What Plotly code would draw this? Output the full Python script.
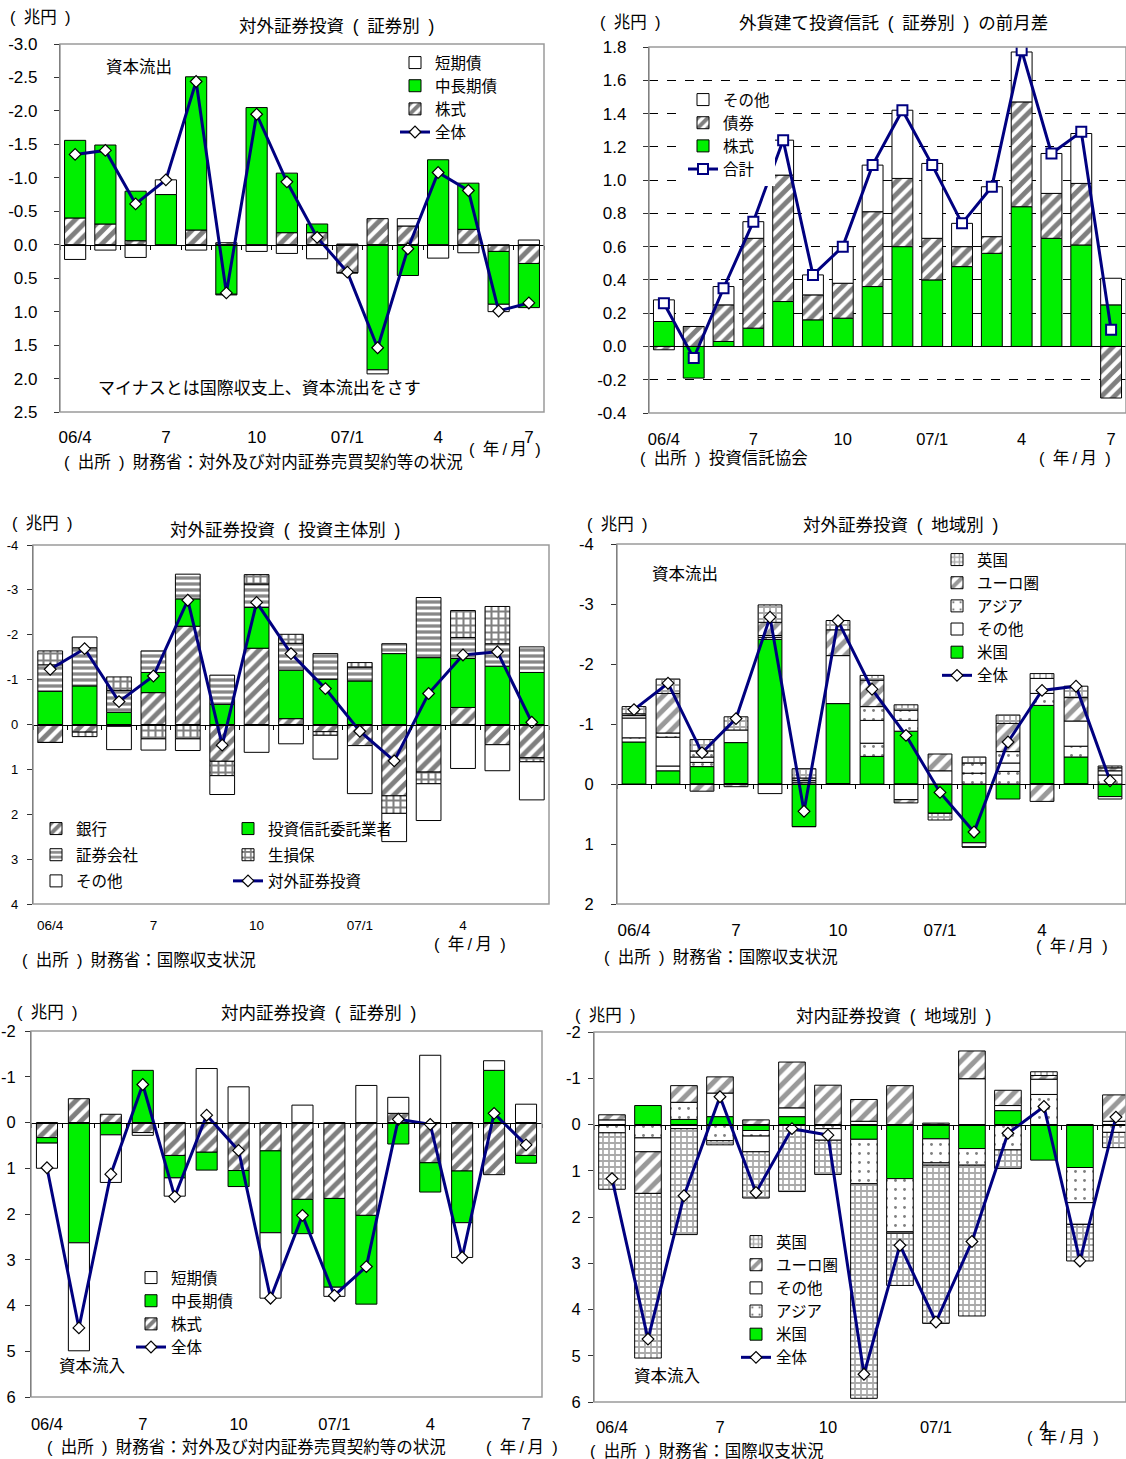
import plotly.graph_objects as go

W, H = 1126, 1459
FONT = "Liberation Sans, Noto Sans CJK JP, sans-serif"
GREEN = "#00F000"
NAVY = "#000080"
EN = "\u2002"
TH = "\u2009"

# ---------------- data ----------------
months16 = ["06/4", "06/5", "06/6", "06/7", "06/8", "06/9", "06/10", "06/11", "06/12",
            "07/1", "07/2", "07/3", "07/4", "07/5", "07/6", "07/7"]
months15 = months16[:15]
tick_pos16 = [0, 3, 6, 9, 12, 15]
tick_lab16 = ["06/4", "7", "10", "07/1", "4", "7"]
tick_pos15 = [0, 3, 6, 9, 12]
tick_lab15 = ["06/4", "7", "10", "07/1", "4"]

# Panel 1: 対外証券投資（証券別）
p1_stock = [-0.40, -0.31, -0.06, 0.00, -0.22, -0.03, 0.00, -0.18, -0.18, 0.42, -0.39, -0.28, 0.00, -0.23, 0.10, 0.28]
p1_mid = [-1.16, -1.18, -0.74, -0.75, -2.29, 0.74, -2.05, -0.89, -0.13, 0.00, 1.87, 0.46, -1.27, -0.69, 0.79, 0.66]
p1_short = [0.22, 0.08, 0.19, -0.22, 0.08, 0.01, 0.10, 0.13, 0.21, -0.01, 0.06, -0.11, 0.20, 0.12, 0.11, -0.07]
p1_total = [-1.35, -1.41, -0.61, -0.97, -2.44, 0.72, -1.95, -0.94, -0.11, 0.41, 1.54, 0.06, -1.08, -0.81, 0.99, 0.87]
p1_yticks = [-3.0, -2.5, -2.0, -1.5, -1.0, -0.5, 0.0, 0.5, 1.0, 1.5, 2.0, 2.5]

# Panel 2: 外貨建て投資信託（証券別）の前月差
p2_stock = [0.15, -0.19, 0.03, 0.11, 0.27, 0.16, 0.17, 0.36, 0.60, 0.40, 0.48, 0.56, 0.84, 0.65, 0.61, 0.25]
p2_bond = [-0.02, 0.12, 0.22, 0.54, 0.76, 0.15, 0.21, 0.45, 0.41, 0.25, 0.12, 0.10, 0.63, 0.27, 0.37, -0.31]
p2_other = [0.13, 0.00, 0.11, 0.10, 0.21, 0.12, 0.22, 0.28, 0.41, 0.45, 0.14, 0.30, 0.30, 0.24, 0.30, 0.16]
p2_total = [0.26, -0.07, 0.35, 0.75, 1.24, 0.43, 0.60, 1.09, 1.42, 1.09, 0.74, 0.96, 1.78, 1.16, 1.29, 0.10]
p2_yticks = [-0.4, -0.2, 0.0, 0.2, 0.4, 0.6, 0.8, 1.0, 1.2, 1.4, 1.6, 1.8]

# Panel 3: 対外証券投資（投資主体別）
p3_bank = [0.40, 0.17, 0.04, -0.71, -2.19, 0.82, -1.70, -0.13, 0.16, 0.47, 1.59, 1.06, -0.38, 0.45, 0.74]
p3_trust = [-0.74, -0.86, -0.27, -0.45, -0.61, -0.45, -0.91, -1.08, -1.01, -0.97, -1.58, -1.49, -1.09, -1.30, -1.16]
p3_sec = [-0.59, -0.85, -0.49, -0.48, -0.55, -0.65, -0.52, -0.60, -0.57, -0.31, -0.22, -1.34, -0.47, -0.50, -0.57]
p3_ins = [-0.31, 0.10, -0.30, 0.32, 0.32, 0.32, -0.21, -0.20, 0.08, -0.10, 0.39, 0.26, -0.60, -0.83, 0.09]
p3_other = [0.00, -0.24, 0.52, 0.25, 0.26, 0.42, 0.62, 0.43, 0.53, 1.07, 0.63, 0.82, 0.98, 0.58, 0.85]
p3_total = [-1.23, -1.69, -0.51, -1.08, -2.77, 0.46, -2.72, -1.58, -0.80, 0.15, 0.81, -0.69, -1.55, -1.62, -0.05]
p3_yticks = [-4, -3, -2, -1, 0, 1, 2, 3, 4]

# Panel 4: 対外証券投資（地域別）
p4_us = [-0.70, -0.22, -0.29, -0.69, -2.41, 0.71, -1.34, -0.46, -0.88, 0.49, 0.98, 0.25, -1.31, -0.45, 0.21]
p4_misc = [-0.07, -0.08, -0.07, 0.00, -0.035, -0.03, 0.00, -0.22, -0.18, 0.00, -0.18, -0.21, -0.20, -0.18, -0.15]
p4_other = [-0.33, -0.48, -0.09, -0.21, 0.16, -0.03, -0.80, -0.38, 0.26, -0.22, 0.07, -0.14, -0.25, -0.42, -0.07]
p4_asia = [-0.04, -0.07, -0.10, 0.00, -0.03, 0.00, 0.00, -0.23, -0.17, 0.00, -0.17, -0.19, 0.00, 0.00, 0.04]
p4_euro = [-0.03, -0.66, 0.12, 0.045, -0.22, -0.04, -0.43, -0.44, 0.055, -0.28, 0.00, -0.47, 0.29, -0.39, -0.05]
p4_uk = [-0.12, -0.24, -0.19, -0.22, -0.29, -0.155, -0.155, -0.08, -0.09, 0.11, -0.10, -0.14, -0.08, -0.19, -0.03]
p4_total = [-1.24, -1.68, -0.52, -1.09, -2.78, 0.455, -2.72, -1.58, -0.81, 0.14, 0.80, -0.70, -1.56, -1.63, -0.055]
p4_yticks = [-4, -3, -2, -1, 0, 1, 2]

# Panel 5: 対内証券投資（証券別）
p5_stock = [0.33, -0.52, -0.18, 0.22, 0.72, 0.65, 1.05, 0.62, 1.68, 1.66, 2.03, -0.20, 0.88, 1.06, 1.14, 0.72]
p5_mid = [0.12, 2.63, 0.27, -1.14, 0.49, 0.39, 0.35, 1.79, 0.75, 1.94, 1.94, 0.47, 0.64, 1.13, -1.14, 0.17]
p5_short = [0.55, 2.36, 1.04, 0.06, 0.40, -1.18, -0.78, 1.43, -0.38, 0.20, -0.81, -0.35, -1.47, 0.76, -0.21, -0.40]
p5_total = [0.99, 4.49, 1.13, -0.83, 1.62, -0.16, 0.61, 3.84, 2.03, 3.78, 3.15, -0.07, 0.04, 2.95, -0.20, 0.49]
p5_yticks = [-2, -1, 0, 1, 2, 3, 4, 5, 6]

# Panel 6: 対内証券投資（地域別）
p6_us = [0.00, -0.41, -0.11, -0.17, 0.13, -0.17, 0.00, 0.32, 1.17, 0.31, 0.52, -0.30, 0.77, 0.93, 0.00]
p6_asia = [0.18, 0.29, -0.37, 0.35, 0.12, 0.00, 0.09, 0.96, 1.15, 0.52, 0.36, 0.55, -0.65, 0.76, 0.17]
p6_other = [-0.10, 0.30, 0.09, -0.51, 0.34, -0.19, 0.25, -0.07, 0.03, 0.05, -0.99, -0.11, -0.33, 0.47, -0.07]
p6_euro = [-0.11, 0.90, -0.36, -0.35, -0.10, -0.99, -0.85, -0.47, -0.84, -0.03, -0.60, -0.33, -0.08, 0.00, -0.57]
p6_uk = [1.22, 3.56, 2.29, 0.09, 1.00, 1.45, 0.74, 4.64, 1.13, 3.42, 3.26, 0.40, -0.08, 0.79, 0.33]
p6_total = [1.17, 4.64, 1.54, -0.60, 1.47, 0.09, 0.23, 5.40, 2.61, 4.27, 2.53, 0.19, -0.39, 2.95, -0.16]
p6_yticks = [-2, -1, 0, 1, 2, 3, 4, 5, 6]

# ---------------- styles ----------------
PLAIN_WHITE = dict(color="white")
PLAIN_GREEN = dict(color=GREEN)
HATCH = dict(color="white", pattern=dict(shape="/", fgcolor="black", bgcolor="white", size=9, solidity=0.55))
HATCH_GRAY = dict(color="white", pattern=dict(shape="/", fgcolor="#333333", bgcolor="white", size=10, solidity=0.5))
HSTRIPE = dict(color="white", pattern=dict(shape="-", fgcolor="#111111", bgcolor="white", size=6, solidity=0.55))
GRID_BLK = dict(color="white", pattern=dict(shape="+", fgcolor="black", bgcolor="white", size=7, solidity=0.5))
GRID_GRAY = dict(color="white", pattern=dict(shape="+", fgcolor="#555555", bgcolor="white", size=6, solidity=0.5))
DOTS = dict(color="white", pattern=dict(shape=".", fgcolor="black", bgcolor="white", size=9, solidity=0.08))

fig = go.Figure()


def sfx(k):
    return "" if k == 1 else str(k)


def add_bar(k, xs, vals, name, style, legend, rank, width, show=True):
    marker = dict(line=dict(color="black", width=1))
    marker.update(style)
    fig.add_trace(go.Bar(x=xs, y=vals, name=name, width=width, marker=marker,
                         xaxis="x" + sfx(k), yaxis="y" + sfx(k), legend=legend,
                         legendrank=rank, legendgroup=f"g{k}_{rank}", showlegend=show,
                         hoverinfo="x+y+name"))


def add_line(k, xs, vals, name, legend, rank, symbol="diamond", size=9, mline=None):
    if mline is None:
        mline = dict(color="black", width=1.2)
    fig.add_trace(go.Scatter(x=xs, y=vals, name=name, mode="lines+markers",
                             line=dict(color=NAVY, width=3),
                             marker=dict(symbol=symbol, size=size, color="white", line=mline),
                             xaxis="x" + sfx(k), yaxis="y" + sfx(k), legend=legend,
                             legendrank=rank, legendgroup=f"g{k}_{rank}"))


x16 = list(range(len(months16)))
x15 = list(range(len(months15)))

# panel 1
add_bar(1, x16, p1_stock, "株式", HATCH, "legend", 3, 0.7)
add_bar(1, x16, p1_mid, "中長期債", PLAIN_GREEN, "legend", 2, 0.7)
add_bar(1, x16, p1_short, "短期債", PLAIN_WHITE, "legend", 1, 0.7)
add_line(1, x16, p1_total, "全体", "legend", 4)

# panel 2
add_bar(2, x16, p2_stock, "株式", PLAIN_GREEN, "legend2", 3, 0.7)
add_bar(2, x16, p2_bond, "債券", HATCH, "legend2", 2, 0.7)
add_bar(2, x16, p2_other, "その他", PLAIN_WHITE, "legend2", 1, 0.7)
add_line(2, x16, p2_total, "合計", "legend2", 4, symbol="square", size=10,
         mline=dict(color=NAVY, width=2))

# panel 3
add_bar(3, x15, p3_bank, "銀行", HATCH, "legend3", 1, 0.72)
add_bar(3, x15, p3_trust, "投資信託委託業者", PLAIN_GREEN, "legend4", 1, 0.72)
add_bar(3, x15, p3_sec, "証券会社", HSTRIPE, "legend3", 2, 0.72)
add_bar(3, x15, p3_ins, "生損保", GRID_BLK, "legend4", 2, 0.72)
add_bar(3, x15, p3_other, "その他", PLAIN_WHITE, "legend3", 3, 0.72)
add_line(3, x15, p3_total, "対外証券投資", "legend4", 3)

# panel 4
add_bar(4, x15, p4_us, "米国", PLAIN_GREEN, "legend5", 5, 0.7)
add_bar(4, x15, p4_misc, "その他地域", DOTS, "legend5", 9, 0.7, show=False)
add_bar(4, x15, p4_other, "その他", PLAIN_WHITE, "legend5", 4, 0.7)
add_bar(4, x15, p4_asia, "アジア", DOTS, "legend5", 3, 0.7)
add_bar(4, x15, p4_euro, "ユーロ圏", HATCH_GRAY, "legend5", 2, 0.7)
add_bar(4, x15, p4_uk, "英国", GRID_GRAY, "legend5", 1, 0.7)
add_line(4, x15, p4_total, "全体", "legend5", 6)

# panel 5
add_bar(5, x16, p5_stock, "株式", HATCH, "legend6", 3, 0.66)
add_bar(5, x16, p5_mid, "中長期債", PLAIN_GREEN, "legend6", 2, 0.66)
add_bar(5, x16, p5_short, "短期債", PLAIN_WHITE, "legend6", 1, 0.66)
add_line(5, x16, p5_total, "全体", "legend6", 4)

# panel 6
add_bar(6, x15, p6_us, "米国", PLAIN_GREEN, "legend7", 5, 0.74)
add_bar(6, x15, p6_asia, "アジア", DOTS, "legend7", 4, 0.74)
add_bar(6, x15, p6_other, "その他", PLAIN_WHITE, "legend7", 3, 0.74)
add_bar(6, x15, p6_euro, "ユーロ圏", HATCH_GRAY, "legend7", 2, 0.74)
add_bar(6, x15, p6_uk, "英国", GRID_GRAY, "legend7", 1, 0.74)
add_line(6, x15, p6_total, "全体", "legend7", 6)

# ---------------- axes ----------------
panels = [
    dict(box=(60, 44, 544, 412), yr=(2.5, -3.0), yt=p1_yticks, fmt="{:.1f}",
         xr=(-0.5, 15.5), tv=tick_pos16, tt=tick_lab16, xf=17, yf=17, xlen=10, ystd=13, zt=True),
    dict(box=(649, 47, 1126, 413), yr=(-0.4, 1.8), yt=p2_yticks, fmt="{:.1f}",
         xr=(-0.5, 15.5), tv=tick_pos16, tt=tick_lab16, xf=16.5, yf=17, xlen=11, ystd=13, zt=False),
    dict(box=(33, 545, 549, 904), yr=(4, -4), yt=p3_yticks, fmt="{:d}",
         xr=(-0.5, 14.5), tv=tick_pos15, tt=tick_lab15, xf=13.5, yf=13, xlen=9, ystd=6, zt=True),
    dict(box=(617, 544, 1126, 904), yr=(2, -4), yt=p4_yticks, fmt="{:d}",
         xr=(-0.5, 14.47), tv=tick_pos15, tt=tick_lab15, xf=17, yf=16.5, xlen=11, ystd=14, zt=True),
    dict(box=(31, 1031, 542, 1397), yr=(6, -2), yt=p5_yticks, fmt="{:d}",
         xr=(-0.5, 15.5), tv=tick_pos16, tt=tick_lab16, xf=16.5, yf=16.5, xlen=12, ystd=6, zt=True),
    dict(box=(594, 1032, 1126, 1402), yr=(6, -2), yt=p6_yticks, fmt="{:d}",
         xr=(-0.5, 14.28), tv=tick_pos15, tt=tick_lab15, xf=16.5, yf=16.5, xlen=10, ystd=4, zt=True),
]

layout = dict(width=W, height=H, margin=dict(l=0, r=0, t=0, b=0, pad=0, autoexpand=False),
              paper_bgcolor="white", plot_bgcolor="white", barmode="relative",
              font=dict(family=FONT, size=16, color="black"), showlegend=True)
shapes = []
for i, p in enumerate(panels):
    k = i + 1
    l, t, r, b = p["box"]
    ydom = [1 - b / H, 1 - t / H]
    layout["xaxis" + sfx(k)] = dict(
        domain=[l / W, r / W], anchor="y" + sfx(k), range=list(p["xr"]),
        tickmode="array", tickvals=p["tv"], ticktext=p["tt"], ticks="outside",
        ticklen=p["xlen"], tickcolor="rgba(0,0,0,0)", showline=False, showgrid=False,
        zeroline=False, tickfont=dict(size=p["xf"]), automargin=False)
    layout["yaxis" + sfx(k)] = dict(
        domain=ydom, anchor="x" + sfx(k), range=list(p["yr"]), tickmode="array",
        tickvals=p["yt"], ticktext=[p["fmt"].format(v) for v in p["yt"]],
        ticks="outside", ticklen=5, tickcolor="#333", showline=True, linecolor="#333",
        linewidth=1.2, showgrid=(k == 2), gridcolor="black", griddash="dash", gridwidth=1,
        zeroline=False, tickfont=dict(size=p["yf"]), ticklabelstandoff=p["ystd"],
        automargin=False)
    y0, y1 = p["yr"]
    frac = (0 - y0) / (y1 - y0)
    zpos = ydom[0] + frac * (ydom[1] - ydom[0])
    kz = k + 6
    layout["xaxis" + str(kz)] = dict(
        overlaying="x" + sfx(k), anchor="free", position=zpos, range=list(p["xr"]),
        tickmode="linear", tick0=0.5, dtick=1, ticks="outside" if p["zt"] else "",
        ticklen=4, tickcolor="black", showline=True, linecolor="black", linewidth=1.2,
        showticklabels=False, showgrid=False, zeroline=False, automargin=False)
    fig.add_trace(go.Scatter(x=[p["xr"][0]], y=[None], mode="markers", showlegend=False,
                             hoverinfo="skip", xaxis="x" + str(kz), yaxis="y" + sfx(k)))
    shapes.append(dict(type="rect", xref="x" + sfx(k) + " domain", yref="y" + sfx(k) + " domain",
                       x0=0, x1=1, y0=0, y1=1, line=dict(color="#9a9a9a", width=1.5),
                       layer="above"))
layout["shapes"] = shapes


def leg(xpx, ypx, bg="rgba(0,0,0,0)", gap=0, size=15.5, order="normal"):
    return dict(x=xpx / W, y=1 - ypx / H, xanchor="left", yanchor="top", bgcolor=bg,
                font=dict(size=size), tracegroupgap=gap, itemwidth=30, traceorder=order,
                borderwidth=0)


layout["legend"] = leg(395, 46)
layout["legend2"] = leg(683, 83, bg="white")
layout["legend3"] = leg(36, 812, gap=3, order="grouped")
layout["legend4"] = leg(228, 812, gap=3, order="grouped")
layout["legend5"] = leg(937, 543)
layout["legend6"] = leg(131, 1261)
layout["legend7"] = leg(736, 1225)


def ann(text, xpx, ypx, anchor="center", size=16.5):
    return dict(text=text, x=xpx / W, y=1 - ypx / H, xref="paper", yref="paper",
                xanchor=anchor, yanchor="middle", showarrow=False, font=dict(size=size))


def par(s):
    return "(" + EN + s + EN + ")"


UNIT = par("兆円")
YM = par("年" + TH + "/" + TH + "月")
SRC_A = par("出所") + EN + "財務省：対外及び対内証券売買契約等の状況"
SRC_B = par("出所") + EN + "財務省：国際収支状況"

annotations = [
    # panel 1
    ann(UNIT, 8, 17, "left"),
    ann("対外証券投資" + EN + par("証券別"), 336, 26, size=17.5),
    ann("資本流出", 139, 67),
    ann("マイナスとは国際収支上、資本流出をさす", 259, 389, size=17),
    ann(YM, 505, 449),
    ann(SRC_A, 62, 462, "left"),
    # panel 2
    ann(UNIT, 598, 22, "left"),
    ann("外貨建て投資信託" + EN + par("証券別") + EN + "の前月差", 893, 23, size=17.5),
    ann(par("出所") + EN + "投資信託協会", 638, 458, "left"),
    ann(YM, 1075, 458),
    # panel 3
    ann(UNIT, 10, 523, "left"),
    ann("対外証券投資" + EN + par("投資主体別"), 285, 530, size=17.5),
    ann(YM, 470, 944),
    ann(SRC_B, 20, 960, "left"),
    # panel 4
    ann(UNIT, 585, 524, "left"),
    ann("対外証券投資" + EN + par("地域別"), 900, 525, size=17.5),
    ann("資本流出", 685, 574),
    ann(YM, 1072, 946),
    ann(SRC_B, 602, 957, "left"),
    # panel 5
    ann(UNIT, 15, 1012, "left"),
    ann("対内証券投資" + EN + par("証券別"), 318, 1013, size=17.5),
    ann("資本流入", 92, 1366),
    ann(SRC_A, 45, 1447, "left"),
    ann(YM, 522, 1447),
    # panel 6
    ann(UNIT, 573, 1015, "left"),
    ann("対内証券投資" + EN + par("地域別"), 893, 1016, size=17.5),
    ann("資本流入", 667, 1376),
    ann(YM, 1063, 1437),
    ann(SRC_B, 588, 1451, "left"),
]
layout["annotations"] = annotations

fig.update_layout(**layout)

POST = ("document.documentElement.style.margin='0';document.body.style.margin='0';"
        "document.body.style.overflow='hidden';document.documentElement.style.overflow='hidden';"
        "var gd=document.getElementById('{plot_id}');gd.style.position='absolute';"
        "gd.style.left='0px';gd.style.top='0px';")
fig.write_html("out.html", post_script=POST, config={"displayModeBar": False})
